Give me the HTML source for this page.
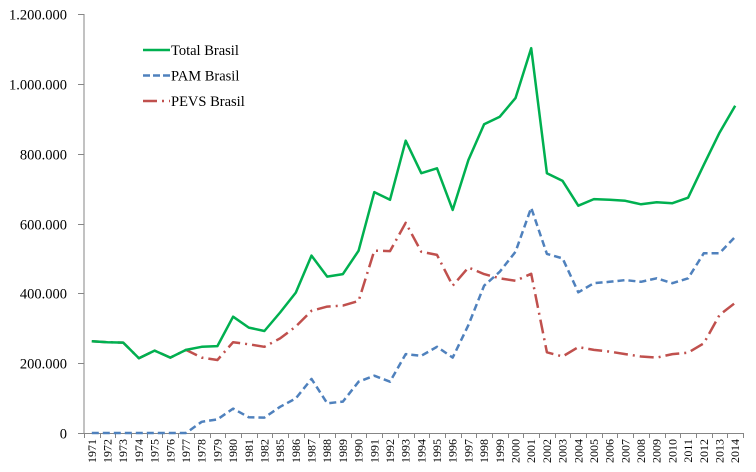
<!DOCTYPE html>
<html><head><meta charset="utf-8"><style>
html,body{margin:0;padding:0;background:#fff;}
svg{display:block;font-family:"Liberation Serif",serif;}
</style></head><body>
<svg id="chart" width="756" height="472"></svg>
<script>
const categories=[1971,1972,1973,1974,1975,1976,1977,1978,1979,1980,1981,1982,1985,1986,1987,1988,1989,1990,1991,1992,1993,1994,1995,1996,1997,1998,1999,2000,2001,2002,2003,2004,2005,2006,2007,2008,2009,2010,2011,2012,2013,2014];
const totalBrasil=[263,260,259,214,236,216,238,247,249,333,302,292,345,402,508,448,455,522,690,668,837,744,758,639,782,884,906,959,1102,744,722,651,670,668,665,655,661,658,674,768,860,937];
const pamBrasil=[0,0,0,0,0,0,0,32,39,70,45,44,75,99,155,85,90,147,164,147,226,221,247,216,309,422,462,519,645,513,500,403,429,433,438,433,443,429,443,515,515,562];
const pevsBrasil=[263,260,259,214,236,216,238,216,209,260,254,247,271,305,350,362,365,378,522,521,602,519,510,422,474,455,443,436,456,231,219,246,238,233,226,219,216,226,230,257,338,373];
const yTicks=[0,200000,400000,600000,800000,1000000,1200000];
const yTickLabels=["0","200.000","400.000","600.000","800.000","1.000.000","1.200.000"];

const NS="http://www.w3.org/2000/svg";
const svg=document.getElementById('chart');
const L=84,R=743,T=14,B=433;
const band=(R-L)/categories.length;
const x=i=>L+(i+0.5)*band;
const y=v=>B-(v/1200000)*(B-T);
function mk(tag,attrs,parent){const e=document.createElementNS(NS,tag);for(const k in attrs)e.setAttribute(k,attrs[k]);(parent||svg).appendChild(e);return e;}

const yAxis=mk('line',{x1:L,y1:T,x2:L,y2:B,stroke:'#868686','stroke-width':1});


const xAxis=mk('line',{x1:L,y1:B+0.5,x2:R,y2:B+0.5,stroke:'#868686','stroke-width':1});



yTicks.forEach((v,i)=>{
  const yy=Math.round(y(v))+0.5;
  const t=mk('line',{x1:L-6,y1:yy,x2:L,y2:yy,stroke:'#868686'});
  
  
  const lb=mk('text',{x:67,y:yy+5,'text-anchor':'end','font-size':14.5,fill:'#000'});
  lb.textContent=yTickLabels[i];
  
  
});
for(let i=0;i<=categories.length;i++){
  const xx=Math.round(L+i*band)+0.5;
  const t=mk('line',{x1:xx,y1:B,x2:xx,y2:B+5,stroke:'#868686'});
  
  
}
categories.forEach((c,i)=>{
  const xx=x(i)+4;
  const lb=mk('text',{x:0,y:0,'text-anchor':'end','font-size':12,fill:'#000',transform:`translate(${xx},${B+6}) rotate(-90)`});
  lb.textContent=c;
  
  
});

function series(data,color,dash,name){
  const pts=data.map((v,i)=>x(i).toFixed(1)+','+y(v*1000).toFixed(1)).join(' ');
  const p=mk('polyline',{points:pts,fill:'none',stroke:color,'stroke-width':2.5,'stroke-dasharray':dash,'stroke-linejoin':'round'});
  
  
}
series(pevsBrasil,'#c0504d','14 5 2 5','pevs-brasil-line');
series(pamBrasil,'#4f81bd','7 4','pam-brasil-line');
series(totalBrasil,'#00b050','none','total-brasil-line');

const legend=[['Total Brasil','#00b050','none'],['PAM Brasil','#4f81bd','7 3'],['PEVS Brasil','#c0504d','14 5 2 5']];
legend.forEach((d,i)=>{
  const g=mk('g',{});
  
  
  const yy=50+i*25.5;
  mk('line',{x1:143,y1:yy,x2:170,y2:yy,stroke:d[1],'stroke-width':2.5,'stroke-dasharray':d[2]},g);
  const t=mk('text',{x:171,y:yy+5,'font-size':14.5,fill:'#000'},g);
  t.textContent=d[0];
});
</script>
</body></html>
